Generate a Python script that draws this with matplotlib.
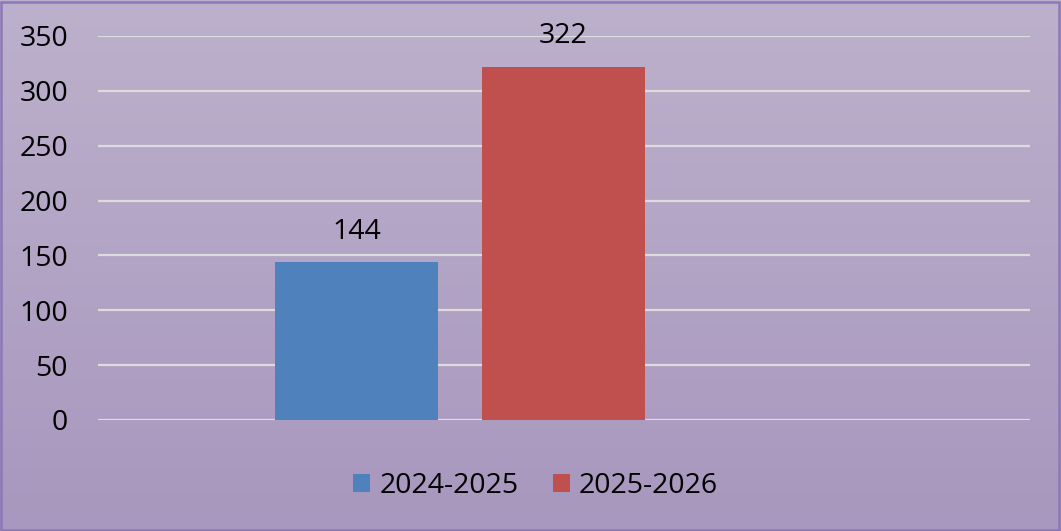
import matplotlib
matplotlib.use("Agg")
import matplotlib.pyplot as plt
import numpy as np
from matplotlib.patches import Rectangle

series_names = ["2024-2025", "2025-2026"]
series_values = [144, 322]
series_colors = ["#4F81BD", "#C0504D"]
y_ticks = [0, 50, 100, 150, 200, 250, 300, 350]

plt.rcParams["font.family"] = ["Open Sans", "DejaVu Sans"]
FS = 20.5

fig = plt.figure(figsize=(10.61, 5.31), dpi=100)

# gradient background
bg = fig.add_axes([0, 0, 1, 1], zorder=0)
grad = np.linspace(0, 1, 256).reshape(-1, 1)
top = np.array([0xBC, 0xB1, 0xCC]) / 255
bottom = np.array([0xA8, 0x97, 0xBE]) / 255
img = top + (bottom - top) * grad[:, :, None]
bg.imshow(img, aspect="auto", extent=[0, 1, 0, 1])
bg.add_patch(Rectangle((0.001, 0.002), 0.997, 0.995, fill=False,
                       edgecolor="#8C78B8", linewidth=1.8, transform=bg.transAxes))
bg.set_axis_off()

ax = fig.add_axes([98 / 1061, 111 / 531, 932 / 1061, 384 / 531], zorder=1)
ax.patch.set_alpha(0)

width = 0.787
positions = np.arange(len(series_values))
bars = []
for i, (name, val, col) in enumerate(zip(series_names, series_values, series_colors)):
    b = ax.bar(positions[i], val, width=width, color=col, label=name, zorder=3)
    bars.append(b)
    ax.text(positions[i], val + 15, str(val), ha="center", va="bottom",
            fontsize=FS, color="#000000")

ax.set_xlim(-1.249, 3.254)
ax.set_ylim(0, 350)
ax.set_yticks(y_ticks)
ax.set_yticklabels([str(t) for t in y_ticks], fontsize=FS, color="#000000")
ax.tick_params(axis="y", length=0, pad=21.5)
ax.set_xticks([])
for s in ax.spines.values():
    s.set_visible(False)
ax.yaxis.grid(True, color="#DCDCDC", linewidth=1.6, zorder=1)
ax.set_axisbelow(True)

leg = fig.legend(handles=[b[0] for b in bars], labels=series_names, loc="center",
                 bbox_to_anchor=(0.505, 0.085), ncol=2, frameon=False,
                 fontsize=FS, handlelength=0.6, handleheight=0.6,
                 handletextpad=0.32, columnspacing=1.2)
for t in leg.get_texts():
    t.set_color("#000000")

fig.savefig("out.png", dpi=100)
